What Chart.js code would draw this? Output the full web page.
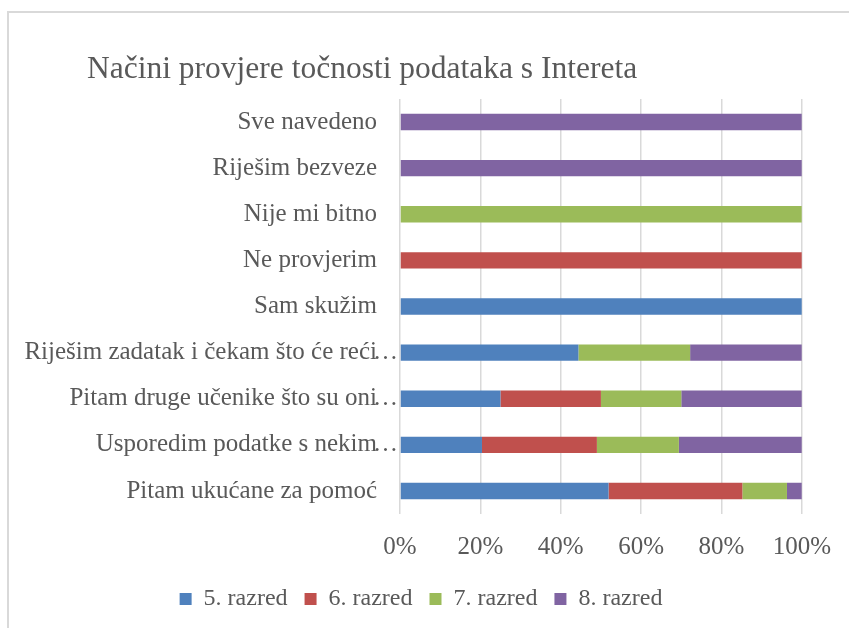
<!DOCTYPE html>
<html>
<head>
<meta charset="utf-8">
<script src="https://cdn.jsdelivr.net/npm/chart.js@4/dist/chart.umd.min.js"></script>
<style>
  html, body { margin: 0; padding: 0; background: #ffffff; }
  #wrap { position: relative; width: 849px; height: 628px; overflow: hidden; }
  #frame { position: absolute; left: 7px; top: 11px; width: 900px; height: 700px;
           border-left: 2px solid #d9d9d9; border-top: 2px solid #d9d9d9; }
  #title { position: absolute; left: 87px; top: 52px; font-family: 'Liberation Serif', serif;
           font-size: 31.5px; line-height: 31px; color: #595959; white-space: nowrap; }
  canvas { position: absolute; left: 0; top: 0; }
</style>
</head>
<body>
<div id="wrap">
  <div id="frame"></div>
  <canvas id="c" width="849" height="628"></canvas>
  <div id="title">Načini provjere točnosti podataka s Intereta</div>
</div>
<script>
const categories = [
  "Sve navedeno",
  "Riješim bezveze",
  "Nije mi bitno",
  "Ne provjerim",
  "Sam skužim",
  "Riješim zadatak i čekam što će reći…",
  "Pitam druge učenike što su oni…",
  "Usporedim podatke s nekim…",
  "Pitam ukućane za pomoć"
];
const seriesNames = ["5. razred", "6. razred", "7. razred", "8. razred"];
const razred5 = [0, 0, 0, 0, 100, 44.4, 25, 20.4, 51.9];
const razred6 = [0, 0, 0, 100, 0, 0, 25, 28.6, 33.3];
const razred7 = [0, 0, 100, 0, 0, 27.8, 20, 20.4, 11.1];
const razred8 = [100, 100, 0, 0, 0, 27.8, 30, 30.6, 3.7];
const xTickValues = [0, 20, 40, 60, 80, 100];

const colors = ["#4f81bd", "#c0504d", "#9bbb59", "#8064a2"];
const textColor = "#595959";
const fontFamily = "'Liberation Serif', serif";

Chart.defaults.font.family = fontFamily;
Chart.defaults.color = textColor;

const labelPlugin = {
  id: 'labelHelper',
  beforeDraw(chart) {
    // let long category labels extend past the axis box instead of being clipped
    chart.scales.y._computeLabelArea = () => undefined;
  },
  afterDraw(chart) {
    const ys = chart.scales.y;
    const ctx = chart.ctx;
    const xRight = ys.right - ys.options.ticks.padding;
    ctx.save();
    ctx.font = "25px " + fontFamily;
    ctx.fillStyle = textColor;
    ctx.textAlign = 'left';
    ctx.textBaseline = 'middle';
    categories.forEach((c, i) => {
      if (c.endsWith('…')) {
        ctx.fillText('…', xRight - 4, ys.getPixelForTick(i));
      }
    });
    ctx.restore();
  }
};

const datasets = [razred5, razred6, razred7, razred8].map((d, i) => ({
  label: seriesNames[i],
  data: d,
  backgroundColor: colors[i],
  borderWidth: 0,
  categoryPercentage: 0.355,
  barPercentage: 1
}));

new Chart(document.getElementById('c'), {
  type: 'bar',
  data: { labels: categories, datasets },
  options: {
    indexAxis: 'y',
    responsive: false,
    animation: false,
    layout: { padding: { left: 10, right: 17, top: 99, bottom: 7 } },
    scales: {
      x: {
        stacked: true,
        min: 0, max: 100,
        afterBuildTicks(scale) { scale.ticks = xTickValues.map(v => ({ value: v })); },
        afterFit(scale) { scale.height = 56; },
        ticks: {
          padding: 18,
          font: { size: 25 },
          color: textColor,
          callback: v => v + '%'
        },
        grid: { color: '#d9d9d9', lineWidth: 1.5, drawTicks: false },
        border: { display: false }
      },
      y: {
        stacked: true,
        afterFit(scale) { scale.width = 390; },
        ticks: {
          padding: 23,
          font: { size: 25 },
          color: textColor,
          callback: function(v, i) {
            const s = categories[i];
            return s.endsWith('…') ? s.slice(0, -1) : s;
          }
        },
        grid: { display: false, drawTicks: false },
        border: { display: false }
      }
    },
    plugins: {
      legend: {
        position: 'bottom',
        labels: {
          boxWidth: 12, boxHeight: 12, padding: 17,
          font: { size: 24 }, color: textColor
        }
      },
      title: { display: false },
      tooltip: { enabled: false }
    }
  },
  plugins: [labelPlugin]
});
</script>
</body>
</html>
